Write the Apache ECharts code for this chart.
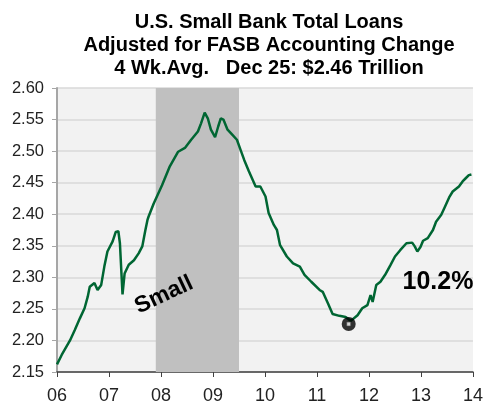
<!DOCTYPE html>
<html>
<head>
<meta charset="utf-8">
<script src="https://cdn.jsdelivr.net/npm/echarts@6/dist/echarts.min.js"></script>
<style>html,body{margin:0;padding:0;background:#fff;}#c{width:486px;height:405px;}</style>
</head>
<body>
<div id="c"></div>
<script>
// Time (decimal years) and 4-week average small bank total loans ($ trillions)
const years = [2006.00,2006.09,2006.25,2006.34,2006.44,2006.53,2006.59,2006.63,2006.72,2006.78,2006.85,2006.91,2006.97,
  2007.07,2007.13,2007.18,2007.21,2007.26,2007.30,2007.38,2007.48,2007.57,2007.64,2007.70,2007.74,2007.76,2007.86,
  2008.02,2008.17,2008.33,2008.46,2008.58,2008.71,2008.77,2008.84,2008.90,2008.96,
  2009.04,2009.10,2009.15,2009.20,2009.28,2009.37,2009.46,2009.53,2009.60,2009.69,2009.82,2009.91,
  2010.01,2010.07,2010.17,2010.23,2010.29,2010.42,2010.54,2010.67,2010.76,2010.89,
  2011.05,2011.11,2011.21,2011.30,2011.43,2011.55,2011.65,2011.78,2011.87,2011.97,
  2012.03,2012.07,2012.14,2012.22,2012.31,2012.41,2012.50,2012.60,2012.72,2012.83,2012.88,2012.93,2012.99,
  2013.04,2013.13,2013.23,2013.29,2013.39,2013.45,2013.55,2013.61,2013.73,2013.80,2013.86,2013.92,2013.97];
const loans = [2.162,2.177,2.200,2.216,2.235,2.251,2.269,2.285,2.291,2.280,2.288,2.317,2.341,
  2.357,2.372,2.373,2.354,2.273,2.306,2.320,2.327,2.338,2.349,2.375,2.391,2.396,2.417,
  2.446,2.476,2.499,2.505,2.518,2.531,2.544,2.561,2.552,2.534,
  2.522,2.539,2.552,2.550,2.534,2.526,2.518,2.502,2.486,2.468,2.444,2.444,
  2.428,2.402,2.383,2.375,2.351,2.333,2.322,2.317,2.304,2.293,
  2.280,2.277,2.259,2.242,2.239,2.237,2.231,2.240,2.251,2.256,
  2.272,2.261,2.288,2.293,2.304,2.319,2.333,2.343,2.354,2.355,2.349,2.341,2.348,
  2.358,2.362,2.375,2.388,2.399,2.410,2.428,2.436,2.444,2.452,2.457,2.462,2.463];
const troughPoint = [2011.61, 2.226];
const recession = [2007.90, 2009.50];
const yTicks = {min: 2.15, max: 2.60, step: 0.05};
const xTicks = {min: 2006, max: 2014, step: 1};
const titleLines = ['U.S. Small Bank Total Loans', 'Adjusted for FASB Accounting Change', '4 Wk.Avg.   Dec 25: $2.46 Trillion'];
const bandLabel = 'Small';
const changeLabel = '10.2%';

const chart = echarts.init(document.getElementById('c'), null, {renderer: 'canvas'});
const data = years.map((y, i) => [y, loans[i]]);
const FONT = '"Liberation Sans", Arial, sans-serif';

chart.setOption({
  animation: false,
  backgroundColor: '#ffffff',
  title: {
    text: titleLines.join('\n'),
    left: 264, top: 6, textAlign: 'center',
    textStyle: {fontFamily: FONT, fontWeight: 'bold', fontSize: 20, lineHeight: 23, color: '#000'}
  },
  grid: {left: 57, right: 7, top: 88, bottom: 33, show: true, backgroundColor: '#f2f2f2', borderWidth: 0},
  xAxis: {
    type: 'value', min: xTicks.min, max: xTicks.max, interval: xTicks.step,
    axisLine: {show: true, lineStyle: {color: '#404040', width: 1.5}},
    axisTick: {show: true, length: 5, lineStyle: {color: '#404040'}},
    axisLabel: {margin: 15, fontFamily: FONT, fontSize: 18, color: '#222', formatter: v => String(Math.round(v)).slice(2)},
    splitLine: {show: false}
  },
  yAxis: {
    type: 'value', min: yTicks.min, max: yTicks.max, interval: yTicks.step,
    axisLine: {show: true, lineStyle: {color: '#a6a6a6', width: 2}},
    axisTick: {show: true, length: 5, lineStyle: {color: '#a6a6a6'}},
    axisLabel: {margin: 13, fontFamily: FONT, fontSize: 16.5, color: '#222', formatter: v => v.toFixed(2)},
    splitLine: {show: true, lineStyle: {color: '#d9d9d9', width: 1.5}}
  },
  series: [
    {
      type: 'line', data: data, showSymbol: false, symbol: 'none',
      lineStyle: {color: '#006633', width: 2.5},
      markArea: {
        silent: true,
        itemStyle: {color: '#c0c0c0', opacity: 1},
        data: [[{xAxis: recession[0]}, {xAxis: recession[1]}]]
      },
      z: 3
    },
    {
      type: 'scatter', data: [troughPoint], symbol: 'circle', symbolSize: 14,
      itemStyle: {color: '#000'}, z: 5
    },
    {
      type: 'scatter', data: [troughPoint], symbol: 'rect', symbolSize: 4,
      itemStyle: {color: '#fff', borderColor: '#444', borderWidth: 0.8}, z: 6
    }
  ],
  graphic: [
    {type: 'text', x: 164, y: 295, rotation: 25 * Math.PI / 180,
      style: {text: bandLabel, fontFamily: FONT, fontWeight: 'bold', fontSize: 23, fill: '#000', textAlign: 'center', textVerticalAlign: 'middle'}, z: 10},
    {type: 'text', x: 438, y: 282,
      style: {text: changeLabel, fontFamily: FONT, fontWeight: 'bold', fontSize: 25, fill: '#000', textAlign: 'center', textVerticalAlign: 'middle'}, z: 10}
  ]
});
</script>
</body>
</html>
